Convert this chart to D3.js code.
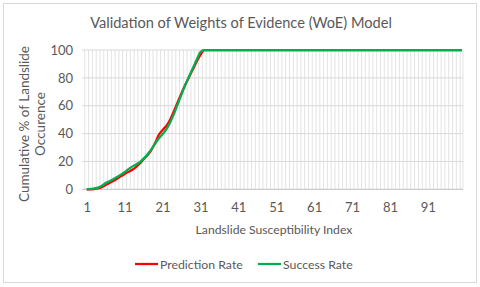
<!DOCTYPE html>
<html><head><meta charset="utf-8">
<script src="https://cdn.jsdelivr.net/npm/d3@7"></script>
<style>html,body{margin:0;padding:0;background:#fff;}svg{display:block;font-family:Lato,'Open Sans',sans-serif;}</style>
</head><body>
<script>
const categories = d3.range(1, 101);
const predictionRate = [0,0,0.2,0.6,1.5,3,4.5,6,7.6,9.3,11,12.5,14,16,18.5,21.5,24.5,28,33,39,42.5,45.5,50,56,62.5,69,75,80.5,86,91.5,96.5].concat(d3.range(69).map(()=>100));
const successRate = [0,0.3,0.6,1.2,2.5,4.5,5.8,7.2,8.8,10.5,12.3,14.5,16.3,17.8,19.5,22,25,28.5,32.5,36.5,39.5,43,48,54,61,68,75,81,87,93,98.5].concat(d3.range(69).map(()=>100));
const xTickLabels = ["1","11","21","31","41","51","61","71","81","91"];
const yTicks = [0,20,40,60,80,100];
const seriesNames = ["Prediction Rate","Success Rate"];
const seriesColors = ["#FF0000","#00B050"];

(function(){
const W=480,H=287;
const svg=d3.select("body").append("svg").attr("width",W).attr("height",H);
svg.append("rect").attr("x",3.5).attr("y",3.5).attr("width",473).attr("height",279).attr("fill","#fff").attr("stroke","#D9D9D9");

const pL=82,pR=463,pT=50,pB=189.3;
const x=d3.scalePoint().domain(categories).range([86.7,462]);
const y=d3.scaleLinear().domain([0,100]).range([pB,pT]);

svg.append("g").selectAll("line").data(categories).join("line")
  .attr("x1",d=>x(d)-1.9).attr("x2",d=>x(d)-1.9).attr("y1",pT).attr("y2",pB)
  .attr("stroke","#D9D9D9").attr("stroke-width",0.75);
svg.append("line").attr("x1",pR).attr("x2",pR).attr("y1",pT).attr("y2",pB).attr("stroke","#D9D9D9").attr("stroke-width",0.75);
svg.append("g").selectAll("line").data(yTicks).join("line")
  .attr("x1",pL).attr("x2",pR).attr("y1",d=>y(d)).attr("y2",d=>y(d))
  .attr("stroke",d=>d===0?"#BFBFBF":"#D9D9D9").attr("stroke-width",1);

const yAxis=d3.axisLeft(y).tickValues(yTicks).tickSize(0).tickPadding(9);
const gy=svg.append("g").attr("transform",`translate(${pL},0)`).call(yAxis);
gy.select(".domain").remove();
gy.selectAll("text").attr("fill","#595959").style("font-size","13px").style("font-family","Lato,'Open Sans',sans-serif");

const xAxis=d3.axisBottom(x).tickValues(categories.filter(c=>xTickLabels.includes(String(c)))).tickSize(0).tickPadding(13);
const gx=svg.append("g").attr("transform",`translate(0,${pB})`).call(xAxis);
gx.select(".domain").remove();
gx.selectAll("text").attr("fill","#595959").style("font-size","13px").style("font-family","Lato,'Open Sans',sans-serif");

const line=d3.line().x((d,i)=>x(categories[i])).y(d=>y(d)).curve(d3.curveMonotoneX);
[predictionRate,successRate].forEach((s,k)=>{
  svg.append("path").datum(s).attr("d",line).attr("fill","none").attr("stroke",seriesColors[k]).attr("stroke-width",2.25).attr("stroke-linejoin","round");
});

svg.append("text").attr("x",241).attr("y",28).attr("text-anchor","middle").attr("fill","#595959").style("font-size","14.6px").text("Validation of Weights of Evidence (WoE) Model");
svg.append("text").attr("x",274).attr("y",233.5).attr("text-anchor","middle").attr("fill","#595959").style("font-size","12.2px").text("Landslide Susceptibility Index");
const yt=svg.append("text").attr("transform","translate(0,124) rotate(-90)").attr("text-anchor","middle").attr("fill","#595959").style("font-size","13.5px");
yt.append("tspan").attr("x",0).attr("y",29).text("Cumulative % of Landslide");
yt.append("tspan").attr("x",0).attr("y",45).text("Occurence");

const lx=[135,258];
seriesNames.forEach((n,k)=>{
  svg.append("line").attr("x1",lx[k]).attr("x2",lx[k]+23).attr("y1",264).attr("y2",264).attr("stroke",seriesColors[k]).attr("stroke-width",2.25);
  svg.append("text").attr("x",lx[k]+25).attr("y",268.5).attr("fill","#595959").style("font-size","12.3px").text(n);
});
})();
</script>
</body></html>
